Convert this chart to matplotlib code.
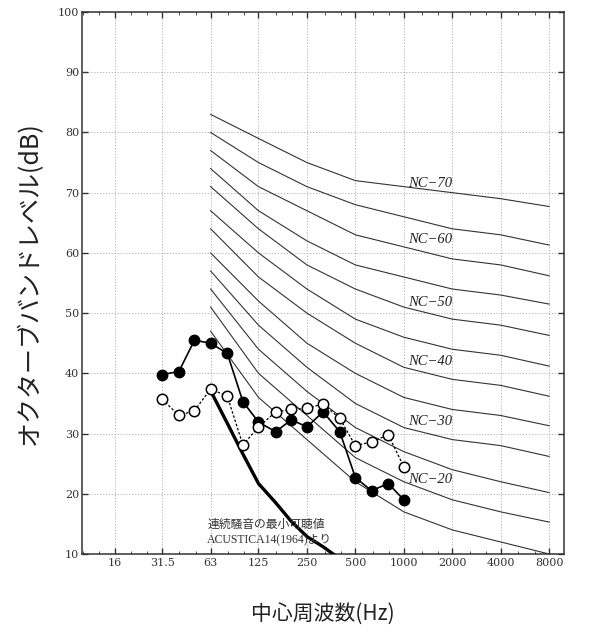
import matplotlib
matplotlib.use("Agg")
import matplotlib.pyplot as plt
from matplotlib.ticker import FixedLocator, NullFormatter

plt.rcParams['font.family'] = ['DejaVu Serif', 'Noto Sans CJK JP']

# NC curves (octave bands)
nc_freq = [63, 125, 250, 500, 1000, 2000, 4000, 8000]
nc15 = [47, 36, 29, 22, 17, 14, 12, 10]
nc20 = [51, 40, 33, 26, 22, 19, 17, 15.3]
nc25 = [54, 44, 37, 31, 27, 24, 22, 20.2]
nc30 = [57, 48, 41, 35, 31, 29, 28, 26.2]
nc35 = [60, 52, 45, 40, 36, 34, 33, 31.3]
nc40 = [64, 56, 50, 45, 41, 39, 38, 36.2]
nc45 = [67, 60, 54, 49, 46, 44, 43, 41.2]
nc50 = [71, 64, 58, 54, 51, 49, 48, 46.3]
nc55 = [74, 67, 62, 58, 56, 54, 53, 51.5]
nc60 = [77, 71, 67, 63, 61, 59, 58, 56.2]
nc65 = [80, 75, 71, 68, 66, 64, 63, 61.3]
nc70 = [83, 79, 75, 72, 71, 70, 69, 67.7]
nc_curves = [nc15, nc20, nc25, nc30, nc35, nc40, nc45, nc50, nc55, nc60, nc65, nc70]

# labels on some curves
nc_labels = ['NC−70', 'NC−60', 'NC−50', 'NC−40', 'NC−30', 'NC−20']
nc_label_y = [71.6, 62.2, 51.7, 41.9, 32.0, 22.4]

# measured 1/3 octave band data
freq = [31.5, 40, 50, 63, 80, 100, 125, 160, 200, 250, 315, 400, 500, 630, 800, 1000]
filled = [39.8, 40.3, 45.5, 45.0, 43.3, 35.3, 31.9, 30.3, 32.3, 31.1, 33.6, 30.3, 22.7, 20.5, 21.7, 19.0]
opened = [35.7, 33.0, 33.8, 37.4, 36.2, 28.1, 31.1, 33.6, 34.0, 34.2, 34.9, 32.5, 28.0, 28.6, 29.8, 24.5]

# minimum audible level of continuous noise
th_freq = [63, 80, 100, 125, 160, 200, 250, 315, 400]
th_level = [37.1, 31.7, 26.6, 21.7, 18.5, 15.4, 12.9, 11.2, 9.2]

xticks = [16, 31.5, 63, 125, 250, 500, 1000, 2000, 4000, 8000]
xticklabels = ['16', '31.5', '63', '125', '250', '500', '1000', '2000', '4000', '8000']

fig = plt.figure(figsize=(5.98, 6.32), dpi=100)
ax = fig.add_axes([82/598, 1 - 554/632, (564 - 82)/598, (554 - 12)/632])
ax.set_xscale('log', base=2)
ax.set_xlim(10, 9900)
ax.set_ylim(10, 100)

for c in nc_curves:
    ax.plot(nc_freq, c, color='#333333', lw=0.8, zorder=2)

for lab, y in zip(nc_labels, nc_label_y):
    ax.text(1060, y, lab, fontsize=10.5, style='italic', family='Liberation Serif',
            color='#222222', va='center', ha='left', zorder=3)

ax.plot(th_freq, th_level, color='black', lw=2.4, zorder=3, clip_on=True)

ax.plot(freq, filled, color='black', lw=1.2, marker='o', ms=7.5,
        mfc='black', mec='black', zorder=4)
ax.plot(freq, opened, color='black', lw=0.9, ls=(0, (2, 1.5)), marker='o', ms=7.5,
        mfc='white', mec='black', mew=1.1, zorder=5)

ax.text(60, 14.8, '連続騒音の最小可聴値', fontsize=8.5,
        family=['Liberation Serif', 'Noto Sans CJK JP'], color='#333333', va='center')
ax.text(60, 12.5, 'ACUSTICA14(1964)より', fontsize=8.5,
        family=['Liberation Serif', 'Noto Sans CJK JP'], color='#333333', va='center')

ax.xaxis.set_major_locator(FixedLocator(xticks))
ax.set_xticklabels(xticklabels)
minor = [16 * 2 ** (k / 3) for k in range(-2, 29) if k % 3 != 0]
ax.xaxis.set_minor_locator(FixedLocator(minor))
ax.xaxis.set_minor_formatter(NullFormatter())
ax.set_yticks(range(10, 101, 10))

ax.tick_params(which='both', direction='in', top=True, right=True, labelsize=8,
               colors='#333333', pad=3)
ax.tick_params(which='major', length=4, width=1)
ax.tick_params(which='minor', length=2, width=0.6)
ax.tick_params(axis='y', pad=2)

ax.grid(True, which='major', color='#aaaaaa', ls=(0, (1.5, 2)), lw=0.6)
for s in ax.spines.values():
    s.set_color('#333333')
    s.set_linewidth(1.1)

fig.text(30/598, 1 - 283/632, 'オクターブバンドレベル(dB)', rotation=90,
         fontsize=18, family=['Noto Sans CJK JP'], ha='center', va='center', color='#222222')
fig.text(323/598, 1 - 615/632, '中心周波数(Hz)', fontsize=15,
         family=['Noto Sans CJK JP'], ha='center', va='center', color='#222222')

fig.savefig('out.png', dpi=100)
